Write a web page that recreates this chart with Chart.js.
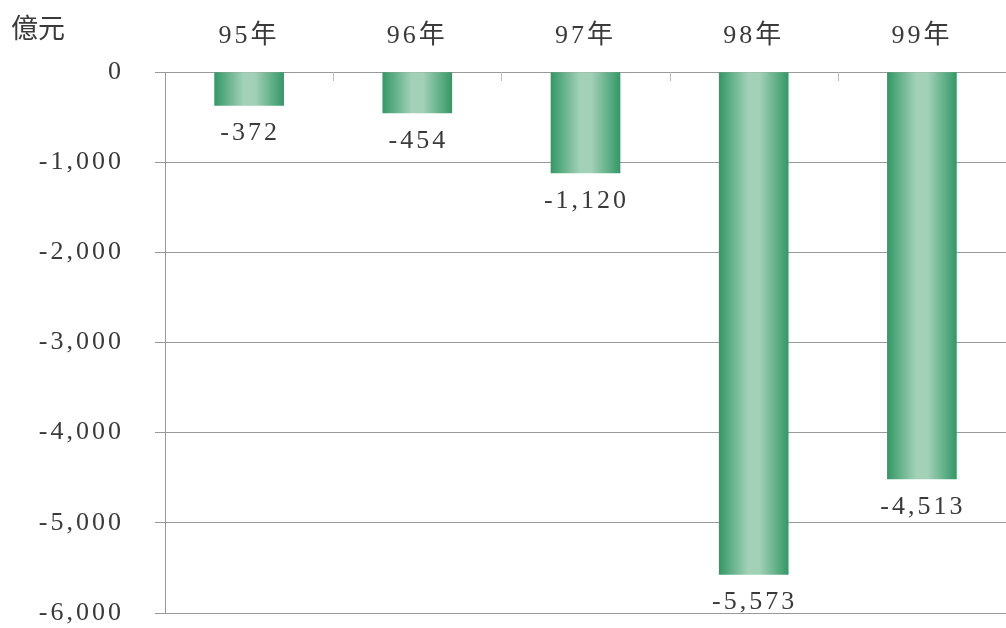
<!DOCTYPE html>
<html>
<head>
<meta charset="utf-8">
<script src="https://cdn.jsdelivr.net/npm/chart.js@4"></script>
<style>
  html, body { margin: 0; padding: 0; background: #fff; overflow: hidden; }
</style>
</head>
<body>
<canvas id="chart" width="1006" height="628"></canvas>
<script>
const years = ['95年', '96年', '97年', '98年', '99年'];
const values = [-372, -454, -1120, -5573, -4513];
const unitLabel = '億元';
const yMin = -6000;
const yMax = 0;
const yStep = 1000;

const fontFamily = "'Liberation Serif', 'Noto Sans CJK TC', serif";
const textColor = '#3a3a3a';
const gridColor = '#999';
const barWidth = 69;
const spacing = '3px';

function fmt(v) {
    let s = Math.abs(v).toLocaleString('en-US');
    return (v < 0 ? '-' : '') + s;
}

function barGradient(ctx) {
    const chart = ctx.chart;
    if (!chart.chartArea || !chart.scales.x) return '#3a9b69';
    const cx = chart.scales.x.getPixelForValue(ctx.dataIndex);
    const g = chart.ctx.createLinearGradient(cx - barWidth / 2, 0, cx + barWidth / 2, 0);
    g.addColorStop(0, '#339966');
    g.addColorStop(0.42, '#a3d1b8');
    g.addColorStop(0.58, '#a3d1b8');
    g.addColorStop(1, '#339966');
    return g;
}

// letter spacing + unit text + value labels
const textPlugin = {
    id: 'textPlugin',
    beforeDraw(chart) {
        chart.ctx.letterSpacing = spacing;
    },
    afterDatasetsDraw(chart) {
        const ctx = chart.ctx;
        ctx.save();
        ctx.letterSpacing = spacing;
        ctx.font = '26px ' + fontFamily;
        ctx.fillStyle = textColor;
        ctx.textAlign = 'center';
        ctx.textBaseline = 'middle';
        chart.getDatasetMeta(0).data.forEach((bar, i) => {
            ctx.fillText(fmt(values[i]), bar.x + 1, bar.y + 28);
        });
        // category boundary ticks under the zero line
        const xs = chart.scales.x;
        ctx.strokeStyle = '#bbb';
        ctx.lineWidth = 1;
        for (let i = 1; i < years.length; i++) {
            const x = Math.round((xs.getPixelForValue(i - 1) + xs.getPixelForValue(i)) / 2) + 0.5;
            ctx.beginPath();
            ctx.moveTo(x, chart.chartArea.top);
            ctx.lineTo(x, chart.chartArea.top + 9);
            ctx.stroke();
        }
        ctx.letterSpacing = '0px';
        ctx.font = '27px "Noto Sans CJK TC", sans-serif';
        ctx.textAlign = 'left';
        ctx.fillText(unitLabel, 11, 28);
        ctx.restore();
    }
};

new Chart(document.getElementById('chart'), {
    type: 'bar',
    data: {
        labels: years,
        datasets: [{
            data: values,
            backgroundColor: barGradient,
            borderWidth: 0,
            barThickness: barWidth
        }]
    },
    options: {
        responsive: false,
        animation: false,
        layout: { padding: { top: 0, right: 0, bottom: 15, left: 0 } },
        plugins: {
            legend: { display: false },
            tooltip: { enabled: false }
        },
        scales: {
            x: {
                position: 'top',
                grid: { display: false },
                border: { display: true, color: gridColor },
                ticks: {
                    color: textColor,
                    font: { family: fontFamily, size: 26 },
                    padding: 12
                },
                afterFit(scale) {
                    scale.height = 72;
                    scale.paddingTop = 0;
                    scale.paddingBottom = 0;
                    scale.paddingLeft = 0;
                    scale.paddingRight = 0;
                }
            },
            y: {
                min: yMin,
                max: yMax,
                ticks: {
                    stepSize: yStep,
                    color: textColor,
                    font: { family: fontFamily, size: 26 },
                    padding: 31,
                    callback: v => fmt(v)
                },
                grid: { color: gridColor, tickLength: 10, drawTicks: true },
                border: { display: true, color: gridColor },
                afterFit(scale) {
                    scale.width = 165;
                    scale.paddingTop = 0;
                    scale.paddingBottom = 0;
                }
            }
        }
    },
    plugins: [textPlugin]
});
</script>
</body>
</html>
